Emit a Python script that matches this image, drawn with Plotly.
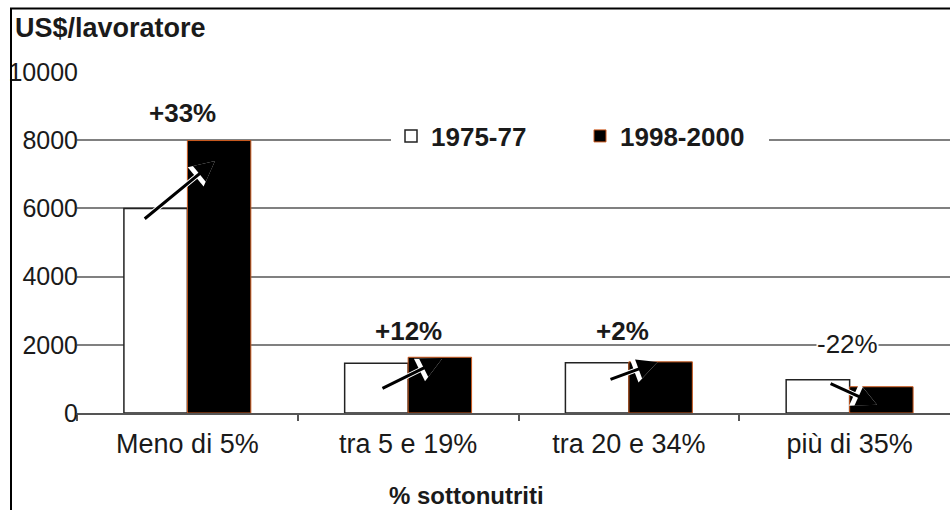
import plotly.graph_objects as go

# ---- data ----
categories = ["Meno di 5%", "tra 5 e 19%", "tra 20 e 34%", "più di 35%"]
series_names = ["1975-77", "1998-2000"]
values_1975 = [6000, 1460, 1470, 975]
values_1998 = [7990, 1635, 1500, 770]
change_labels = ["+33%", "+12%", "+2%", "-22%"]
y_ticks = [0, 2000, 4000, 6000, 8000, 10000]
y_title = "US$/lavoratore"
x_title = "% sottonutriti"

# ---- layout geometry (pixels) ----
W, H = 950, 510
ML, MR, MT, MB = 77, 0, 72, 97
PW, PH = W - ML - MR, H - MT - MB


def px_x(p):
    return (p - ML) / PW


def px_y(p):
    return (H - MB - p) / PH


FONT = "Liberation Sans, Arial, sans-serif"
TXT = "#1a1a1a"

# annotation positions (category offsets / value positions)
label_pos = [(-0.02, 8800), (1.0, 2400), (1.97, 2400), (2.99, 2020)]
label_bold = [True, True, True, False]
arrow_tail = [(-0.20, 5660), (0.877, 700), (1.91, 968), (2.907, 880)]
arrow_head = [(0.125, 7390), (1.153, 1584), (2.13, 1496), (3.124, 240)]

fig = go.Figure()
fig.add_trace(go.Bar(
    x=categories, y=values_1975, name="<b>" + series_names[0] + "</b>",
    marker=dict(color="white", line=dict(color="#222222", width=1.5)),
))
fig.add_trace(go.Bar(
    x=categories, y=values_1998, name="<b>" + series_names[1] + "</b>",
    marker=dict(color="black", line=dict(color="#cc5a1e", width=1)),
))

annotations = []
# arrows: white halo under black arrow
for (tx, ty), (hx, hy) in zip(arrow_tail, arrow_head):
    for color, width, size in (("white", 5, 1.0), ("black", 3, 1.35)):
        annotations.append(dict(
            x=hx, y=hy, ax=tx, ay=ty, xref="x", yref="y", axref="x", ayref="y",
            text="", showarrow=True, arrowhead=2, arrowsize=size,
            arrowwidth=width, arrowcolor=color, standoff=0, startstandoff=0,
        ))

for lab, (lx, ly), b in zip(change_labels, label_pos, label_bold):
    annotations.append(dict(
        x=lx, y=ly, xref="x", yref="y", showarrow=False,
        text=("<b>%s</b>" % lab) if b else lab,
        font=dict(family=FONT, size=26, color=TXT),
        bgcolor="white" if not b else None, borderpad=0,
        xanchor="center", yanchor="middle",
    ))

annotations.append(dict(
    x=px_x(13), y=px_y(28), xref="paper", yref="paper", showarrow=False,
    text="<b>%s</b>" % y_title, xanchor="left", yanchor="middle",
    font=dict(family=FONT, size=27, color=TXT),
))
annotations.append(dict(
    x=px_x(466), y=px_y(495), xref="paper", yref="paper", showarrow=False,
    text="<b>%s</b>" % x_title, xanchor="center", yanchor="middle",
    font=dict(family=FONT, size=24, color=TXT),
))

shapes = [
    dict(type="line", xref="paper", yref="paper",
         x0=px_x(11), x1=px_x(11), y0=px_y(8), y1=px_y(520),
         line=dict(color="black", width=2)),
    dict(type="line", xref="paper", yref="paper",
         x0=px_x(10), x1=px_x(960), y0=px_y(8.5), y1=px_y(8.5),
         line=dict(color="black", width=2)),
]

fig.update_layout(
    width=W, height=H,
    margin=dict(l=ML, r=MR, t=MT, b=MB, pad=0),
    paper_bgcolor="white", plot_bgcolor="white",
    barmode="group", bargap=0.425, bargroupgap=0,
    font=dict(family=FONT, color=TXT),
    showlegend=True,
    legend=dict(
        orientation="h", x=px_x(391), y=px_y(136), xanchor="left", yanchor="middle",
        bgcolor="white", borderwidth=0, font=dict(family=FONT, size=26, color=TXT),
        entrywidth=144, entrywidthmode="pixels", traceorder="normal",
    ),
    annotations=annotations,
    shapes=shapes,
)
fig.update_xaxes(
    type="category", categoryorder="array", categoryarray=categories,
    range=[-0.5, -0.5 + PW / 220.75],
    showline=True, linecolor="#555555", linewidth=1.5,
    ticks="outside", tickson="boundaries", ticklen=6, tickcolor="#555555", tickwidth=1.5,
    showgrid=False, ticklabelstandoff=6,
    tickfont=dict(family=FONT, size=27, color=TXT),
)
fig.update_yaxes(
    range=[0, 10000], tickvals=y_ticks, ticktext=[str(v) for v in y_ticks],
    showgrid=True, gridcolor="#808080", gridwidth=1.5, zeroline=False,
    showline=False, ticks="", ticklabelstandoff=-2,
    tickfont=dict(family=FONT, size=25, color=TXT),
)

fig.write_html(
    "out.html",
    config={"displayModeBar": False},
    post_script="document.body.style.margin='0';document.body.style.overflow='hidden';",
)
